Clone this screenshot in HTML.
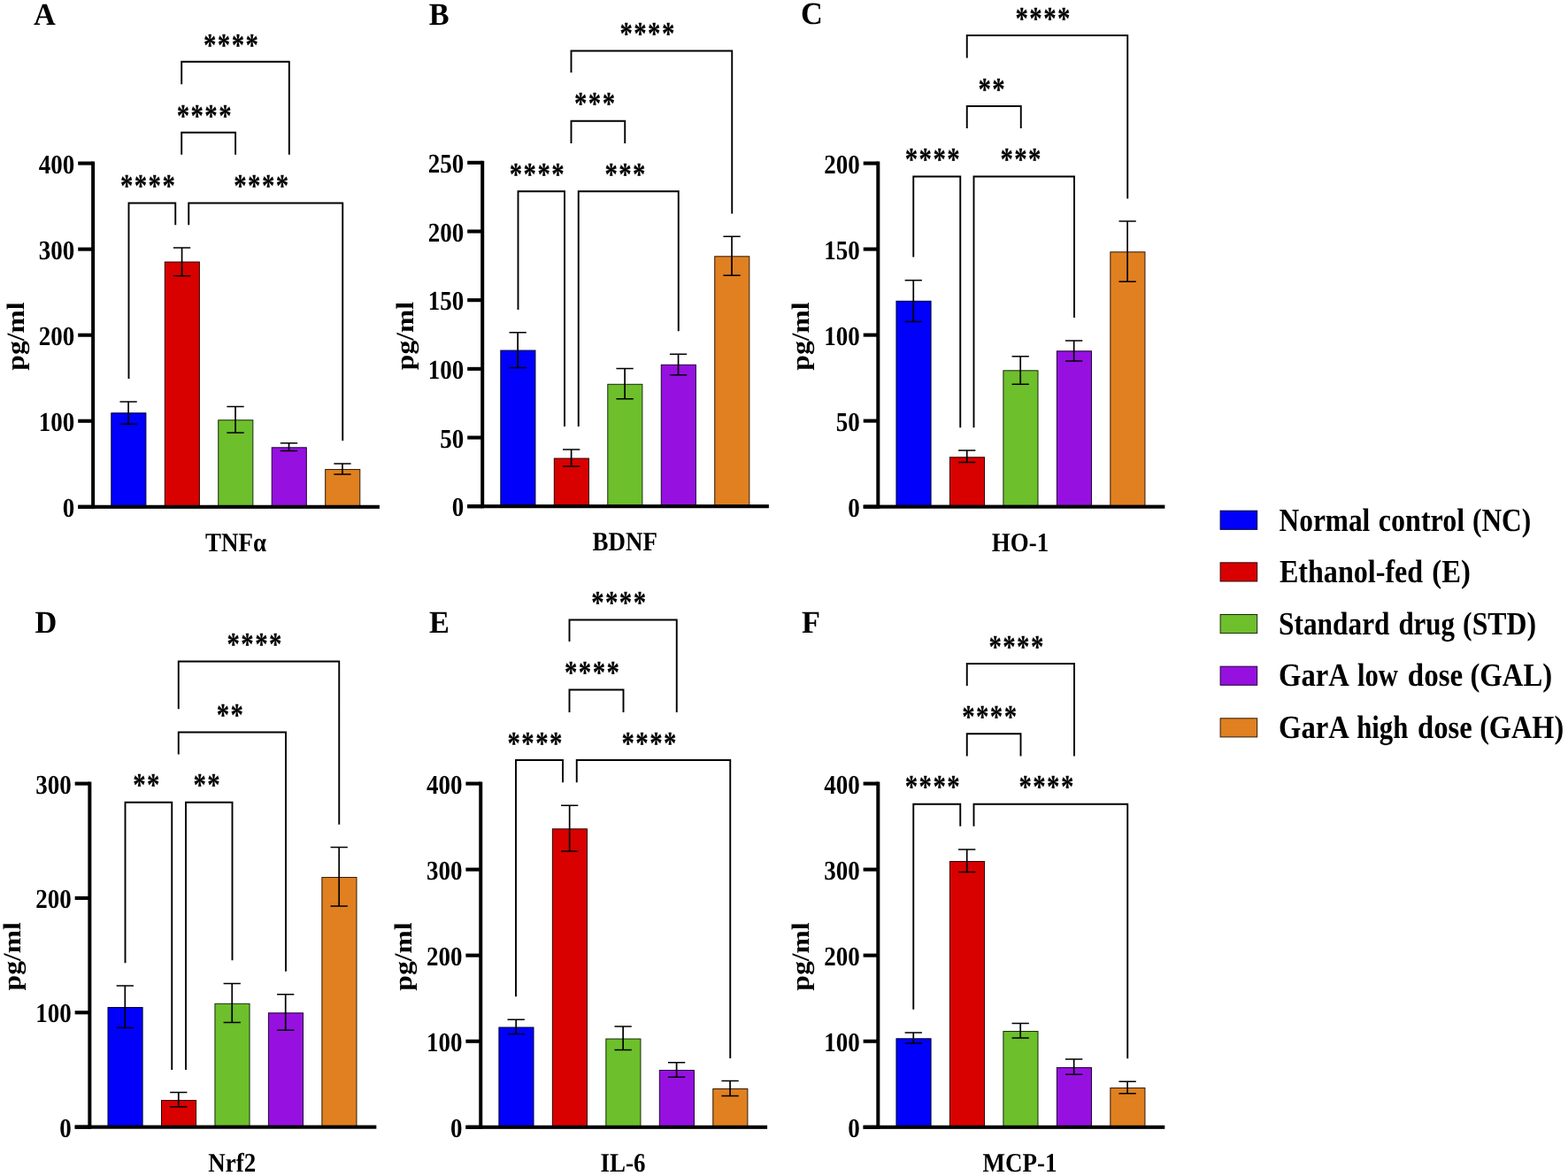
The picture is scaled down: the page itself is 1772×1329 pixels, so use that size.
<!DOCTYPE html>
<html lang="en">
<head>
<meta charset="utf-8">
<title>Figure</title>
<style>
html,body{margin:0;padding:0;background:#fff;}
body{width:1772px;height:1329px;overflow:hidden;}
svg{display:block;}
svg text{font-family:"Liberation Serif", "DejaVu Serif", serif;font-weight:bold;fill:#000;text-rendering:geometricPrecision;}
svg text.s{stroke:#000;stroke-width:0.2px;stroke-linejoin:round;}
</style>
</head>
<body>
<svg width="1772" height="1329" viewBox="0 0 1772 1329">
<rect x="0" y="0" width="1772" height="1329" fill="#ffffff"/>
<g>
<rect x="125.80" y="466.80" width="39.10" height="106.02" fill="#0000fb" stroke="#000030" stroke-width="1"/>
<rect x="186.27" y="296.05" width="39.10" height="276.77" fill="#d90000" stroke="#2a0000" stroke-width="1"/>
<rect x="246.74" y="474.80" width="39.10" height="98.02" fill="#6dbf2c" stroke="#142a08" stroke-width="1"/>
<rect x="307.21" y="505.80" width="39.10" height="67.02" fill="#9611e0" stroke="#1e0330" stroke-width="1"/>
<rect x="367.68" y="530.55" width="39.10" height="42.27" fill="#e08020" stroke="#2e1906" stroke-width="1"/>
<path d="M145.10 454.00V479.25M135.45 454.00H154.75M135.45 479.25H154.75M205.57 280.00V311.75M195.92 280.00H215.22M195.92 311.75H215.22M266.04 459.50V489.00M256.39 459.50H275.69M256.39 489.00H275.69M326.51 500.75V509.50M316.86 500.75H336.16M316.86 509.50H336.16M386.98 524.00V536.00M377.33 524.00H396.63M377.33 536.00H396.63" fill="none" stroke="#000" stroke-width="1.7"/>
<rect x="103.15" y="182.51" width="4.0" height="392.36" fill="#000"/>
<rect x="88.20" y="570.77" width="340.70" height="4.1" fill="#000"/>
<rect x="88.20" y="570.77" width="16.95" height="4.1" fill="#000"/>
<text transform="translate(84.25 583.97) scale(0.885 1)" font-size="30.5" text-anchor="end">0</text>
<rect x="88.20" y="473.71" width="16.95" height="4.1" fill="#000"/>
<text transform="translate(84.25 486.91) scale(0.885 1)" font-size="30.5" text-anchor="end">100</text>
<rect x="88.20" y="376.64" width="16.95" height="4.1" fill="#000"/>
<text transform="translate(84.25 389.84) scale(0.885 1)" font-size="30.5" text-anchor="end">200</text>
<rect x="88.20" y="279.57" width="16.95" height="4.1" fill="#000"/>
<text transform="translate(84.25 292.77) scale(0.885 1)" font-size="30.5" text-anchor="end">300</text>
<rect x="88.20" y="182.51" width="16.95" height="4.1" fill="#000"/>
<text transform="translate(84.25 195.71) scale(0.885 1)" font-size="30.5" text-anchor="end">400</text>
<path d="M205.20 95.20V69.80H326.80V174.70M205.20 174.70V149.80H266.10V174.70M145.50 428.00V229.50H198.25V254.25M213.25 254.25V229.50H387.25V498.00" fill="none" stroke="#000" stroke-width="1.9" stroke-linejoin="miter"/>
<text transform="translate(230.03 62.50) scale(0.789 1)" font-size="36.6" text-anchor="start" class="s" letter-spacing="1.79">****</text>
<text transform="translate(199.68 142.50) scale(0.789 1)" font-size="36.6" text-anchor="start" class="s" letter-spacing="1.79">****</text>
<text transform="translate(135.90 222.20) scale(0.789 1)" font-size="36.6" text-anchor="start" class="s" letter-spacing="1.79">****</text>
<text transform="translate(264.27 222.20) scale(0.789 1)" font-size="36.6" text-anchor="start" class="s" letter-spacing="1.79">****</text>
<text transform="translate(266.60 622.72) scale(0.893 1)" font-size="30.2" text-anchor="middle">TNFα</text>
<text transform="translate(38.00 27.50) scale(0.97 1)" font-size="35.4" text-anchor="start">A</text>
<text transform="translate(26.60 380.00) scale(0.89 1) rotate(-90)" font-size="31.6" text-anchor="middle">pg/ml</text>
</g>
<g>
<rect x="565.85" y="396.05" width="39.10" height="176.15" fill="#0000fb" stroke="#000030" stroke-width="1"/>
<rect x="626.32" y="518.05" width="39.10" height="54.15" fill="#d90000" stroke="#2a0000" stroke-width="1"/>
<rect x="686.79" y="434.30" width="39.10" height="137.90" fill="#6dbf2c" stroke="#142a08" stroke-width="1"/>
<rect x="747.26" y="412.30" width="39.10" height="159.90" fill="#9611e0" stroke="#1e0330" stroke-width="1"/>
<rect x="807.73" y="289.80" width="39.10" height="282.40" fill="#e08020" stroke="#2e1906" stroke-width="1"/>
<path d="M585.15 375.75V415.50M575.50 375.75H594.80M575.50 415.50H594.80M645.62 508.00V527.00M635.97 508.00H655.27M635.97 527.00H655.27M706.09 416.50V450.75M696.44 416.50H715.74M696.44 450.75H715.74M766.56 400.25V423.75M756.91 400.25H776.21M756.91 423.75H776.21M827.03 267.25V311.25M817.38 267.25H836.68M817.38 311.25H836.68" fill="none" stroke="#000" stroke-width="1.7"/>
<rect x="543.20" y="181.78" width="4.0" height="392.47" fill="#000"/>
<rect x="528.20" y="570.15" width="340.70" height="4.1" fill="#000"/>
<rect x="528.20" y="570.15" width="17.00" height="4.1" fill="#000"/>
<text transform="translate(524.25 583.35) scale(0.885 1)" font-size="30.5" text-anchor="end">0</text>
<rect x="528.20" y="492.48" width="17.00" height="4.1" fill="#000"/>
<text transform="translate(524.25 505.68) scale(0.885 1)" font-size="30.5" text-anchor="end">50</text>
<rect x="528.20" y="414.80" width="17.00" height="4.1" fill="#000"/>
<text transform="translate(524.25 428.00) scale(0.885 1)" font-size="30.5" text-anchor="end">100</text>
<rect x="528.20" y="337.13" width="17.00" height="4.1" fill="#000"/>
<text transform="translate(524.25 350.33) scale(0.885 1)" font-size="30.5" text-anchor="end">150</text>
<rect x="528.20" y="259.45" width="17.00" height="4.1" fill="#000"/>
<text transform="translate(524.25 272.65) scale(0.885 1)" font-size="30.5" text-anchor="end">200</text>
<rect x="528.20" y="181.78" width="17.00" height="4.1" fill="#000"/>
<text transform="translate(524.25 194.98) scale(0.885 1)" font-size="30.5" text-anchor="end">250</text>
<path d="M645.50 82.00V57.50H827.25V241.50M645.50 162.00V136.75H706.25V162.00M585.50 350.00V216.25H638.00V482.00M653.75 482.00V216.25H766.75V374.25" fill="none" stroke="#000" stroke-width="1.9" stroke-linejoin="miter"/>
<text transform="translate(700.40 50.20) scale(0.789 1)" font-size="36.6" text-anchor="start" class="s" letter-spacing="1.79">****</text>
<text transform="translate(649.02 129.45) scale(0.789 1)" font-size="36.6" text-anchor="start" class="s" letter-spacing="1.79">***</text>
<text transform="translate(575.77 208.95) scale(0.789 1)" font-size="36.6" text-anchor="start" class="s" letter-spacing="1.79">****</text>
<text transform="translate(683.40 208.95) scale(0.789 1)" font-size="36.6" text-anchor="start" class="s" letter-spacing="1.79">***</text>
<text transform="translate(706.25 622.10) scale(0.893 1)" font-size="30.2" text-anchor="middle">BDNF</text>
<text transform="translate(484.80 27.60) scale(0.97 1)" font-size="35.4" text-anchor="start">B</text>
<text transform="translate(466.65 379.50) scale(0.89 1) rotate(-90)" font-size="31.6" text-anchor="middle">pg/ml</text>
</g>
<g>
<rect x="1012.95" y="340.30" width="39.10" height="232.35" fill="#0000fb" stroke="#000030" stroke-width="1"/>
<rect x="1073.42" y="516.80" width="39.10" height="55.85" fill="#d90000" stroke="#2a0000" stroke-width="1"/>
<rect x="1133.89" y="418.80" width="39.10" height="153.85" fill="#6dbf2c" stroke="#142a08" stroke-width="1"/>
<rect x="1194.36" y="396.80" width="39.10" height="175.85" fill="#9611e0" stroke="#1e0330" stroke-width="1"/>
<rect x="1254.83" y="284.80" width="39.10" height="287.85" fill="#e08020" stroke="#2e1906" stroke-width="1"/>
<path d="M1032.25 316.75V363.50M1022.60 316.75H1041.90M1022.60 363.50H1041.90M1092.72 509.00V522.50M1083.07 509.00H1102.37M1083.07 522.50H1102.37M1153.19 402.75V434.25M1143.54 402.75H1162.84M1143.54 434.25H1162.84M1213.66 385.00V408.00M1204.01 385.00H1223.31M1204.01 408.00H1223.31M1274.13 250.00V318.25M1264.48 250.00H1283.78M1264.48 318.25H1283.78" fill="none" stroke="#000" stroke-width="1.7"/>
<rect x="990.30" y="182.49" width="4.0" height="392.21" fill="#000"/>
<rect x="975.70" y="570.60" width="340.70" height="4.1" fill="#000"/>
<rect x="975.70" y="570.60" width="16.60" height="4.1" fill="#000"/>
<text transform="translate(971.75 583.80) scale(0.885 1)" font-size="30.5" text-anchor="end">0</text>
<rect x="975.70" y="473.57" width="16.60" height="4.1" fill="#000"/>
<text transform="translate(971.75 486.77) scale(0.885 1)" font-size="30.5" text-anchor="end">50</text>
<rect x="975.70" y="376.54" width="16.60" height="4.1" fill="#000"/>
<text transform="translate(971.75 389.74) scale(0.885 1)" font-size="30.5" text-anchor="end">100</text>
<rect x="975.70" y="279.52" width="16.60" height="4.1" fill="#000"/>
<text transform="translate(971.75 292.72) scale(0.885 1)" font-size="30.5" text-anchor="end">150</text>
<rect x="975.70" y="182.49" width="16.60" height="4.1" fill="#000"/>
<text transform="translate(971.75 195.69) scale(0.885 1)" font-size="30.5" text-anchor="end">200</text>
<path d="M1092.75 65.50V40.00H1274.25V224.50M1092.75 145.00V120.00H1153.75V145.00M1032.25 290.50V199.50H1085.25V483.25M1100.50 483.25V199.50H1214.00V359.00" fill="none" stroke="#000" stroke-width="1.9" stroke-linejoin="miter"/>
<text transform="translate(1147.53 32.70) scale(0.789 1)" font-size="36.6" text-anchor="start" class="s" letter-spacing="1.79">****</text>
<text transform="translate(1105.53 112.70) scale(0.789 1)" font-size="36.6" text-anchor="start" class="s" letter-spacing="1.79">**</text>
<text transform="translate(1022.77 192.20) scale(0.789 1)" font-size="36.6" text-anchor="start" class="s" letter-spacing="1.79">****</text>
<text transform="translate(1130.40 192.20) scale(0.789 1)" font-size="36.6" text-anchor="start" class="s" letter-spacing="1.79">***</text>
<text transform="translate(1153.00 622.55) scale(0.893 1)" font-size="30.2" text-anchor="middle">HO-1</text>
<text transform="translate(905.00 27.10) scale(0.97 1)" font-size="35.4" text-anchor="start">C</text>
<text transform="translate(913.75 380.00) scale(0.89 1) rotate(-90)" font-size="31.6" text-anchor="middle">pg/ml</text>
</g>
<g>
<rect x="122.00" y="1138.55" width="39.10" height="135.10" fill="#0000fb" stroke="#000030" stroke-width="1"/>
<rect x="182.47" y="1243.55" width="39.10" height="30.10" fill="#d90000" stroke="#2a0000" stroke-width="1"/>
<rect x="242.94" y="1134.30" width="39.10" height="139.35" fill="#6dbf2c" stroke="#142a08" stroke-width="1"/>
<rect x="303.41" y="1144.80" width="39.10" height="128.85" fill="#9611e0" stroke="#1e0330" stroke-width="1"/>
<rect x="363.88" y="991.55" width="39.10" height="282.10" fill="#e08020" stroke="#2e1906" stroke-width="1"/>
<path d="M141.30 1114.00V1161.50M131.65 1114.00H150.95M131.65 1161.50H150.95M201.77 1234.50V1250.75M192.12 1234.50H211.42M192.12 1250.75H211.42M262.24 1111.50V1155.50M252.59 1111.50H271.89M252.59 1155.50H271.89M322.71 1123.75V1164.25M313.06 1123.75H332.36M313.06 1164.25H332.36M383.18 957.50V1024.00M373.53 957.50H392.83M373.53 1024.00H392.83" fill="none" stroke="#000" stroke-width="1.7"/>
<rect x="99.35" y="883.51" width="4.0" height="392.19" fill="#000"/>
<rect x="84.65" y="1271.60" width="340.70" height="4.1" fill="#000"/>
<rect x="84.65" y="1271.60" width="16.70" height="4.1" fill="#000"/>
<text transform="translate(80.70 1284.80) scale(0.885 1)" font-size="30.5" text-anchor="end">0</text>
<rect x="84.65" y="1142.24" width="16.70" height="4.1" fill="#000"/>
<text transform="translate(80.70 1155.44) scale(0.885 1)" font-size="30.5" text-anchor="end">100</text>
<rect x="84.65" y="1012.87" width="16.70" height="4.1" fill="#000"/>
<text transform="translate(80.70 1026.07) scale(0.885 1)" font-size="30.5" text-anchor="end">200</text>
<rect x="84.65" y="883.51" width="16.70" height="4.1" fill="#000"/>
<text transform="translate(80.70 896.71) scale(0.885 1)" font-size="30.5" text-anchor="end">300</text>
<path d="M201.75 801.25V747.50H383.25V931.75M201.75 852.50V827.50H323.00V1097.75M141.50 1088.25V906.75H194.25V1209.00M210.00 1209.00V906.75H262.50V1085.25" fill="none" stroke="#000" stroke-width="1.9" stroke-linejoin="miter"/>
<text transform="translate(256.52 740.20) scale(0.789 1)" font-size="36.6" text-anchor="start" class="s" letter-spacing="1.79">****</text>
<text transform="translate(244.65 820.20) scale(0.789 1)" font-size="36.6" text-anchor="start" class="s" letter-spacing="1.79">**</text>
<text transform="translate(150.15 899.45) scale(0.789 1)" font-size="36.6" text-anchor="start" class="s" letter-spacing="1.79">**</text>
<text transform="translate(218.53 899.45) scale(0.789 1)" font-size="36.6" text-anchor="start" class="s" letter-spacing="1.79">**</text>
<text transform="translate(262.25 1323.55) scale(0.893 1)" font-size="30.2" text-anchor="middle">Nrf2</text>
<text transform="translate(39.50 715.00) scale(0.97 1)" font-size="35.4" text-anchor="start">D</text>
<text transform="translate(22.80 1080.80) scale(0.89 1) rotate(-90)" font-size="31.6" text-anchor="middle">pg/ml</text>
</g>
<g>
<rect x="563.90" y="1161.05" width="39.10" height="112.75" fill="#0000fb" stroke="#000030" stroke-width="1"/>
<rect x="624.37" y="936.80" width="39.10" height="337.00" fill="#d90000" stroke="#2a0000" stroke-width="1"/>
<rect x="684.84" y="1174.05" width="39.10" height="99.75" fill="#6dbf2c" stroke="#142a08" stroke-width="1"/>
<rect x="745.31" y="1209.55" width="39.10" height="64.25" fill="#9611e0" stroke="#1e0330" stroke-width="1"/>
<rect x="805.78" y="1230.55" width="39.10" height="43.25" fill="#e08020" stroke="#2e1906" stroke-width="1"/>
<path d="M583.20 1152.25V1168.50M573.55 1152.25H592.85M573.55 1168.50H592.85M643.67 910.25V962.00M634.02 910.25H653.32M634.02 962.00H653.32M704.14 1160.00V1186.50M694.49 1160.00H713.79M694.49 1186.50H713.79M764.61 1200.75V1217.25M754.96 1200.75H774.26M754.96 1217.25H774.26M825.08 1221.50V1238.50M815.43 1221.50H834.73M815.43 1238.50H834.73" fill="none" stroke="#000" stroke-width="1.7"/>
<rect x="541.25" y="883.51" width="4.0" height="392.34" fill="#000"/>
<rect x="526.40" y="1271.75" width="340.70" height="4.1" fill="#000"/>
<rect x="526.40" y="1271.75" width="16.85" height="4.1" fill="#000"/>
<text transform="translate(522.45 1284.95) scale(0.885 1)" font-size="30.5" text-anchor="end">0</text>
<rect x="526.40" y="1174.69" width="16.85" height="4.1" fill="#000"/>
<text transform="translate(522.45 1187.89) scale(0.885 1)" font-size="30.5" text-anchor="end">100</text>
<rect x="526.40" y="1077.63" width="16.85" height="4.1" fill="#000"/>
<text transform="translate(522.45 1090.83) scale(0.885 1)" font-size="30.5" text-anchor="end">200</text>
<rect x="526.40" y="980.57" width="16.85" height="4.1" fill="#000"/>
<text transform="translate(522.45 993.77) scale(0.885 1)" font-size="30.5" text-anchor="end">300</text>
<rect x="526.40" y="883.51" width="16.85" height="4.1" fill="#000"/>
<text transform="translate(522.45 896.71) scale(0.885 1)" font-size="30.5" text-anchor="end">400</text>
<path d="M643.50 725.00V700.50H764.75V805.00M643.50 805.00V779.50H704.50V805.00M583.00 1126.25V859.00H636.00V884.25M651.75 884.25V859.00H825.25V1196.00" fill="none" stroke="#000" stroke-width="1.9" stroke-linejoin="miter"/>
<text transform="translate(668.15 693.20) scale(0.789 1)" font-size="36.6" text-anchor="start" class="s" letter-spacing="1.79">****</text>
<text transform="translate(638.02 772.20) scale(0.789 1)" font-size="36.6" text-anchor="start" class="s" letter-spacing="1.79">****</text>
<text transform="translate(573.52 851.70) scale(0.789 1)" font-size="36.6" text-anchor="start" class="s" letter-spacing="1.79">****</text>
<text transform="translate(702.52 851.70) scale(0.789 1)" font-size="36.6" text-anchor="start" class="s" letter-spacing="1.79">****</text>
<text transform="translate(704.00 1323.70) scale(0.893 1)" font-size="30.2" text-anchor="middle">IL-6</text>
<text transform="translate(485.00 714.90) scale(0.97 1)" font-size="35.4" text-anchor="start">E</text>
<text transform="translate(464.70 1081.00) scale(0.89 1) rotate(-90)" font-size="31.6" text-anchor="middle">pg/ml</text>
</g>
<g>
<rect x="1012.95" y="1173.80" width="39.10" height="100.00" fill="#0000fb" stroke="#000030" stroke-width="1"/>
<rect x="1073.42" y="973.55" width="39.10" height="300.25" fill="#d90000" stroke="#2a0000" stroke-width="1"/>
<rect x="1133.89" y="1165.55" width="39.10" height="108.25" fill="#6dbf2c" stroke="#142a08" stroke-width="1"/>
<rect x="1194.36" y="1206.55" width="39.10" height="67.25" fill="#9611e0" stroke="#1e0330" stroke-width="1"/>
<rect x="1254.83" y="1229.55" width="39.10" height="44.25" fill="#e08020" stroke="#2e1906" stroke-width="1"/>
<path d="M1032.25 1167.00V1179.00M1022.60 1167.00H1041.90M1022.60 1179.00H1041.90M1092.72 960.00V985.50M1083.07 960.00H1102.37M1083.07 985.50H1102.37M1153.19 1156.50V1173.00M1143.54 1156.50H1162.84M1143.54 1173.00H1162.84M1213.66 1197.00V1214.25M1204.01 1197.00H1223.31M1204.01 1214.25H1223.31M1274.13 1222.25V1235.75M1264.48 1222.25H1283.78M1264.48 1235.75H1283.78" fill="none" stroke="#000" stroke-width="1.7"/>
<rect x="990.30" y="883.51" width="4.0" height="392.34" fill="#000"/>
<rect x="975.60" y="1271.75" width="340.70" height="4.1" fill="#000"/>
<rect x="975.60" y="1271.75" width="16.70" height="4.1" fill="#000"/>
<text transform="translate(971.65 1284.95) scale(0.885 1)" font-size="30.5" text-anchor="end">0</text>
<rect x="975.60" y="1174.69" width="16.70" height="4.1" fill="#000"/>
<text transform="translate(971.65 1187.89) scale(0.885 1)" font-size="30.5" text-anchor="end">100</text>
<rect x="975.60" y="1077.63" width="16.70" height="4.1" fill="#000"/>
<text transform="translate(971.65 1090.83) scale(0.885 1)" font-size="30.5" text-anchor="end">200</text>
<rect x="975.60" y="980.57" width="16.70" height="4.1" fill="#000"/>
<text transform="translate(971.65 993.77) scale(0.885 1)" font-size="30.5" text-anchor="end">300</text>
<rect x="975.60" y="883.51" width="16.70" height="4.1" fill="#000"/>
<text transform="translate(971.65 896.71) scale(0.885 1)" font-size="30.5" text-anchor="end">400</text>
<path d="M1092.75 775.00V750.00H1214.00V854.50M1092.75 854.50V829.25H1153.50V854.50M1032.25 1140.75V908.75H1085.25V933.75M1100.50 933.75V908.75H1274.25V1196.25" fill="none" stroke="#000" stroke-width="1.9" stroke-linejoin="miter"/>
<text transform="translate(1117.40 742.70) scale(0.789 1)" font-size="36.6" text-anchor="start" class="s" letter-spacing="1.79">****</text>
<text transform="translate(1087.15 821.95) scale(0.789 1)" font-size="36.6" text-anchor="start" class="s" letter-spacing="1.79">****</text>
<text transform="translate(1022.77 901.45) scale(0.789 1)" font-size="36.6" text-anchor="start" class="s" letter-spacing="1.79">****</text>
<text transform="translate(1151.40 901.45) scale(0.789 1)" font-size="36.6" text-anchor="start" class="s" letter-spacing="1.79">****</text>
<text transform="translate(1152.50 1323.70) scale(0.893 1)" font-size="30.2" text-anchor="middle">MCP-1</text>
<text transform="translate(906.00 714.90) scale(0.97 1)" font-size="35.4" text-anchor="start">F</text>
<text transform="translate(913.75 1081.00) scale(0.89 1) rotate(-90)" font-size="31.6" text-anchor="middle">pg/ml</text>
</g>
<g>
<rect x="1379.1" y="577.20" width="41.6" height="21.1" fill="#0000fb" stroke="#000030" stroke-width="1"/>
<text y="599.80" font-size="36.8"><tspan x="1445.55" textLength="102.78" lengthAdjust="spacingAndGlyphs">Normal</tspan> <tspan x="1557.84" textLength="97.33" lengthAdjust="spacingAndGlyphs">control</tspan> <tspan x="1663.96" textLength="66.30" lengthAdjust="spacingAndGlyphs">(NC)</tspan></text>
<rect x="1379.1" y="635.85" width="41.6" height="21.1" fill="#d90000" stroke="#2a0000" stroke-width="1"/>
<text y="658.35" font-size="36.8"><tspan x="1445.95" textLength="162.25" lengthAdjust="spacingAndGlyphs">Ethanol-fed</tspan> <tspan x="1618.33" textLength="43.52" lengthAdjust="spacingAndGlyphs">(E)</tspan></text>
<rect x="1379.1" y="694.50" width="41.6" height="21.1" fill="#6dbf2c" stroke="#142a08" stroke-width="1"/>
<text y="716.90" font-size="36.8"><tspan x="1445.06" textLength="125.45" lengthAdjust="spacingAndGlyphs">Standard</tspan> <tspan x="1580.38" textLength="63.68" lengthAdjust="spacingAndGlyphs">drug</tspan> <tspan x="1653.05" textLength="82.97" lengthAdjust="spacingAndGlyphs">(STD)</tspan></text>
<rect x="1379.1" y="753.15" width="41.6" height="21.1" fill="#9611e0" stroke="#1e0330" stroke-width="1"/>
<text y="775.45" font-size="36.8"><tspan x="1445.05" textLength="78.05" lengthAdjust="spacingAndGlyphs">GarA</tspan> <tspan x="1534.05" textLength="45.88" lengthAdjust="spacingAndGlyphs">low</tspan> <tspan x="1590.82" textLength="62.33" lengthAdjust="spacingAndGlyphs">dose</tspan> <tspan x="1661.43" textLength="92.70" lengthAdjust="spacingAndGlyphs">(GAL)</tspan></text>
<rect x="1379.1" y="811.80" width="41.6" height="21.1" fill="#e08020" stroke="#2e1906" stroke-width="1"/>
<text y="834.00" font-size="36.8"><tspan x="1445.05" textLength="78.05" lengthAdjust="spacingAndGlyphs">GarA</tspan> <tspan x="1533.18" textLength="58.19" lengthAdjust="spacingAndGlyphs">high</tspan> <tspan x="1602.03" textLength="61.72" lengthAdjust="spacingAndGlyphs">dose</tspan> <tspan x="1672.14" textLength="95.00" lengthAdjust="spacingAndGlyphs">(GAH)</tspan></text>
</g>
</svg>
</body>
</html>
